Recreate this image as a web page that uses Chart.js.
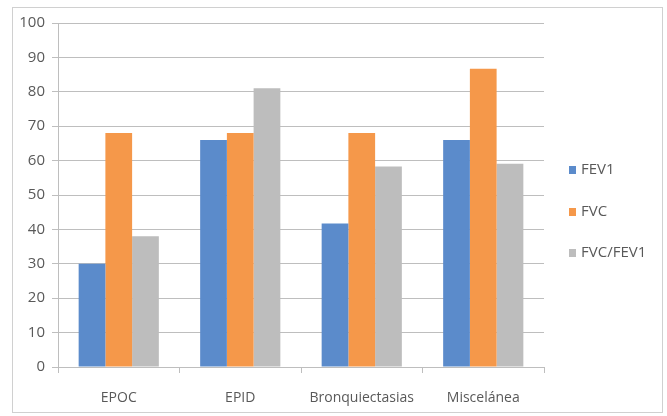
<!DOCTYPE html>
<html>
<head>
<meta charset="utf-8">
<script src="https://cdn.jsdelivr.net/npm/chart.js@4/dist/chart.umd.min.js"></script>
<style>
  html, body { margin: 0; padding: 0; background: #fff; }
  #wrap { position: absolute; left: 0; top: 0; width: 667px; height: 416px; }
</style>
</head>
<body>
<div id="wrap"><canvas id="c" width="667" height="416"></canvas></div>
<script>
const categories = ['EPOC', 'EPID', 'Bronquiectasias', 'Miscelánea'];
const fev1 = [30, 66, 41.7, 66];
const fvc = [68, 68, 68, 86.7];
const fvcFev1 = [38, 81, 58.3, 59.1];
const seriesNames = ['FEV1', 'FVC', 'FVC/FEV1'];
const yTicks = [0, 10, 20, 30, 40, 50, 60, 70, 80, 90, 100];

const colors = ['#5b8bcb', '#f5984a', '#bdbdbd'];
const textColor = '#595959';
const gridColor = '#bebebe';
const fontFamily = '"Open Sans", "Liberation Sans", sans-serif';

// Outer frame of the chart object
const framePlugin = {
  id: 'frame',
  beforeDraw(chart) {
    const ctx = chart.ctx;
    ctx.save();
    ctx.fillStyle = '#ffffff';
    ctx.fillRect(0, 0, chart.width, chart.height);
    ctx.strokeStyle = '#d0d0d0';
    ctx.lineWidth = 1;
    ctx.strokeRect(12.5, 7.5, 650, 405);
    ctx.restore();
  }
};

// Vertical legend on the right with small square markers
const sideLegend = {
  id: 'sideLegend',
  afterDraw(chart) {
    const ctx = chart.ctx;
    const area = chart.chartArea;
    ctx.save();
    ctx.font = '15px ' + fontFamily;
    ctx.textBaseline = 'middle';
    ctx.textAlign = 'left';
    const x0 = area.right + 25;
    const yc = [170, 212, 253];
    chart.data.datasets.forEach((ds, i) => {
      ctx.fillStyle = ds.backgroundColor;
      ctx.fillRect(x0, yc[i] - 4, 7, 8);
      ctx.fillStyle = textColor;
      ctx.fillText(ds.label, x0 + 12, yc[i]);
    });
    ctx.restore();
  }
};

new Chart(document.getElementById('c'), {
  type: 'bar',
  data: {
    labels: categories,
    datasets: [
      { label: seriesNames[0], data: fev1, backgroundColor: colors[0] },
      { label: seriesNames[1], data: fvc, backgroundColor: colors[1] },
      { label: seriesNames[2], data: fvcFev1, backgroundColor: colors[2] }
    ]
  },
  options: {
    responsive: false,
    animation: false,
    devicePixelRatio: 1,
    layout: { padding: { left: 0, right: 123, top: 23, bottom: 0 } },
    datasets: { bar: { barPercentage: 1, categoryPercentage: 0.66, borderWidth: 0 } },
    plugins: {
      legend: { display: false },
      tooltip: { enabled: false }
    },
    scales: {
      x: {
        grid: {
          display: true,
          drawOnChartArea: false,
          drawTicks: true,
          tickLength: 6,
          color: gridColor,
          offset: true
        },
        border: { display: true, color: gridColor, width: 1 },
        ticks: {
          color: textColor,
          font: { family: fontFamily, size: 14 },
          padding: 17,
          maxRotation: 0
        },
        afterFit(scale) { scale.height = 49; }
      },
      y: {
        min: 0,
        max: 100,
        afterBuildTicks(scale) { scale.ticks = yTicks.map(v => ({ value: v })); },
        grid: {
          color: gridColor,
          drawTicks: true,
          tickLength: 6
        },
        border: { display: true, color: gridColor, width: 1 },
        ticks: {
          color: textColor,
          font: { family: fontFamily, size: 15 },
          padding: 7
        },
        afterFit(scale) { scale.width = 58; }
      }
    }
  },
  plugins: [framePlugin, sideLegend]
});
</script>
</body>
</html>
